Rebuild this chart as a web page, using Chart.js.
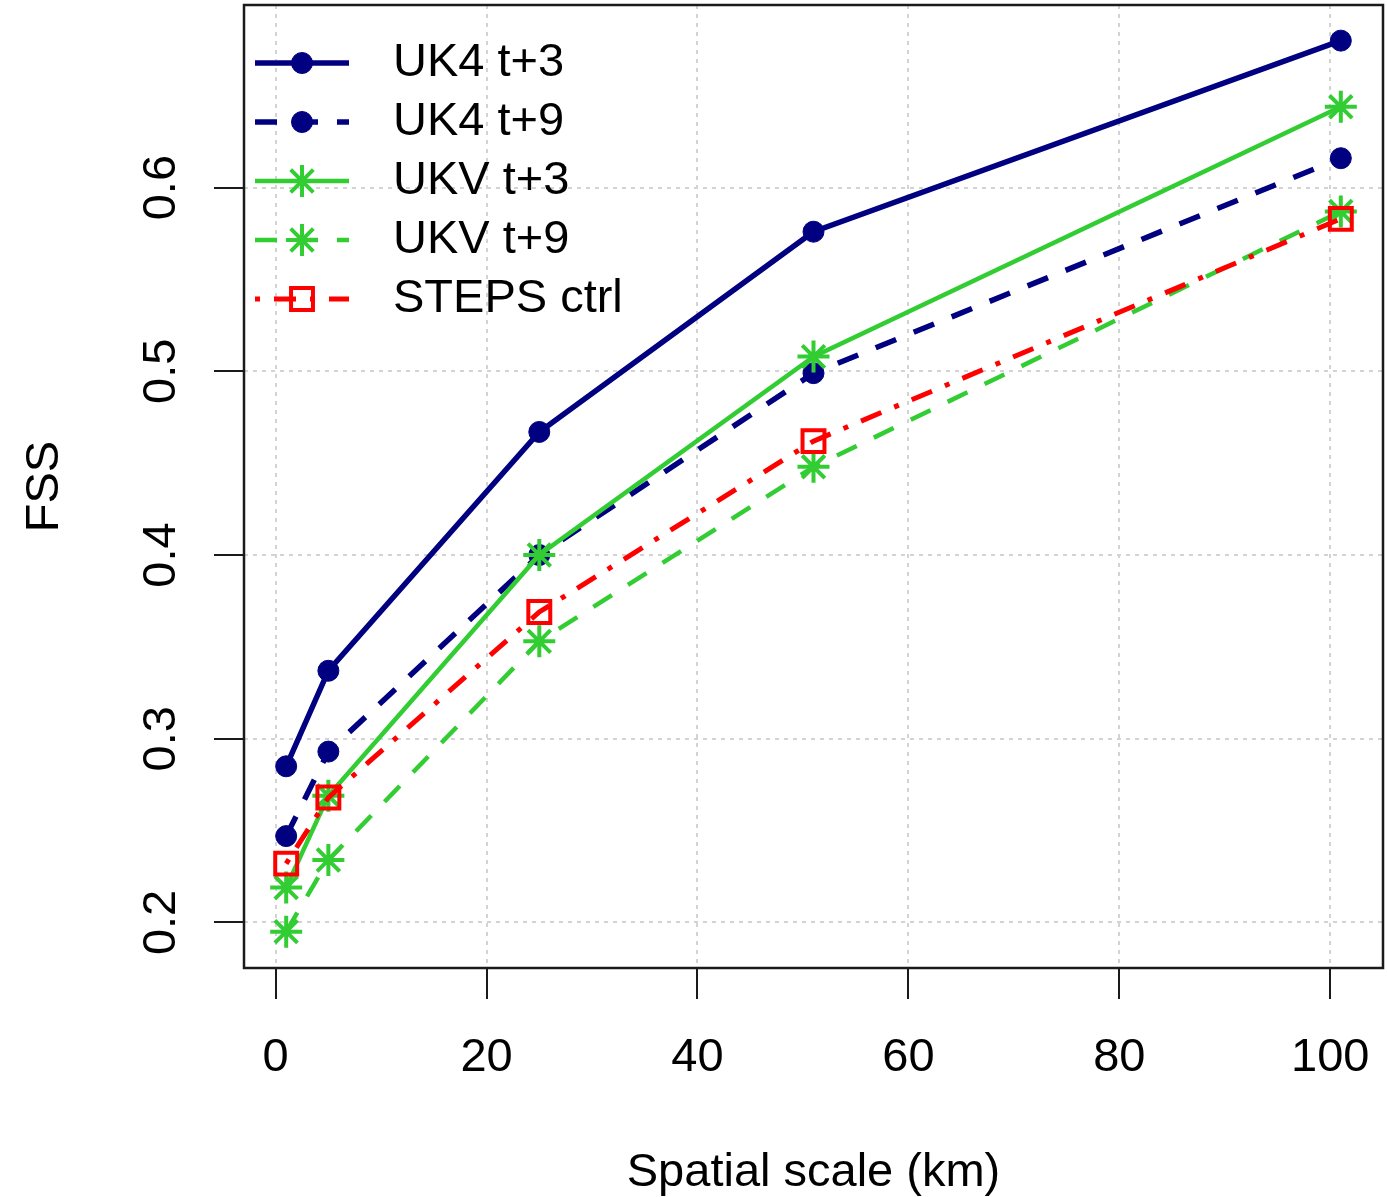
<!DOCTYPE html>
<html>
<head>
<meta charset="utf-8">
<script src="https://cdn.jsdelivr.net/npm/chart.js@4"></script>
<style>
  body { margin: 0; background: #fff; }
  canvas { display: block; }
</style>
</head>
<body>
<canvas id="fss" width="1387" height="1197"></canvas>
<script>
// spatial scale (km) on x, FSS on y
const scaleKm = [1, 5, 25, 51, 101];
const uk4T3 = [0.285, 0.337, 0.467, 0.576, 0.680];
const uk4T9 = [0.247, 0.293, 0.400, 0.499, 0.616];
const ukvT3 = [0.219, 0.269, 0.400, 0.508, 0.644];
const ukvT9 = [0.195, 0.234, 0.353, 0.448, 0.587];
const stepsCtrl = [0.232, 0.268, 0.369, 0.462, 0.583];

const seriesNames = ['UK4 t+3', 'UK4 t+9', 'UKV t+3', 'UKV t+9', 'STEPS ctrl'];
const xTicks = [0, 20, 40, 60, 80, 100];
const yTicks = [0.2, 0.3, 0.4, 0.5, 0.6];

const NAVY = '#000080';
const GREEN = '#32cd32';
const RED = '#ff0000';
const INK = '#1a1a1a';
const FONT = '"Liberation Sans", Arial, Helvetica, sans-serif';
const FSIZE = 47;
const DASHED = [22, 19];
const DOTDASH = [5, 14, 22, 14];

const looks = [
  { color: NAVY, dash: [], pointStyle: 'circle', radius: 10.5, width: 5.5, fill: NAVY, pw: 1 },
  { color: NAVY, dash: DASHED, pointStyle: 'circle', radius: 10.5, width: 5.5, fill: NAVY, pw: 1 },
  { color: GREEN, dash: [], pointStyle: 'star', radius: 16, width: 4.5, fill: GREEN, pw: 4 },
  { color: GREEN, dash: DASHED, pointStyle: 'star', radius: 16, width: 4.5, fill: GREEN, pw: 4 },
  { color: RED, dash: DOTDASH, pointStyle: 'rect', radius: 15.5, width: 5, fill: 'rgba(0,0,0,0)', pw: 4 }
];
const allSeries = [uk4T3, uk4T9, ukvT3, ukvT9, stepsCtrl];

function toPoints(vals) {
  return scaleKm.map((x, i) => ({ x: x, y: vals[i] }));
}

const datasets = allSeries.map((vals, i) => ({
  label: seriesNames[i],
  data: toPoints(vals),
  borderColor: looks[i].color,
  borderWidth: looks[i].width,
  borderDash: looks[i].dash,
  borderCapStyle: 'butt',
  backgroundColor: looks[i].fill,
  pointStyle: looks[i].pointStyle,
  pointRadius: looks[i].radius,
  pointBorderWidth: looks[i].pw,
  pointBorderColor: looks[i].color,
  pointBackgroundColor: looks[i].fill,
  tension: 0,
  fill: false,
  clip: false,
  order: allSeries.length - i
}));

// box round the plot + the R style legend
const framePlugin = {
  id: 'frame',
  afterDraw(chart) {
    const { ctx, chartArea: a } = chart;
    ctx.save();
    ctx.strokeStyle = INK;
    ctx.lineWidth = 2.5;
    ctx.setLineDash([]);
    ctx.strokeRect(a.left, a.top, a.right - a.left, a.bottom - a.top);

    const x0 = 255, x1 = 349, xm = 302, xt = 393;
    seriesNames.forEach((name, i) => {
      const y = 63 + i * 59;
      const lk = looks[i];
      ctx.save();
      ctx.strokeStyle = lk.color;
      ctx.lineWidth = lk.width;
      ctx.lineCap = 'butt';
      ctx.setLineDash(lk.dash);
      ctx.beginPath();
      ctx.moveTo(x0, y);
      ctx.lineTo(x1, y);
      ctx.stroke();
      ctx.setLineDash([]);
      ctx.fillStyle = lk.fill;
      ctx.lineWidth = lk.pw;
      Chart.helpers.drawPoint(ctx, {
        pointStyle: lk.pointStyle, rotation: 0, radius: lk.radius, borderWidth: lk.pw
      }, xm, y);
      ctx.restore();

      ctx.fillStyle = '#000';
      ctx.font = FSIZE + 'px ' + FONT;
      ctx.textBaseline = 'middle';
      ctx.textAlign = 'left';
      ctx.fillText(name, xt, y);
    });
    ctx.restore();
  }
};

const gridLook = {
  color: '#d3d3d3',
  lineWidth: 2,
  tickColor: INK,
  tickWidth: 2,
  tickBorderDash: [100, 0]
};

new Chart(document.getElementById('fss'), {
  type: 'line',
  data: { datasets: datasets },
  options: {
    responsive: false,
    animation: false,
    devicePixelRatio: 1,
    layout: { autoPadding: false, padding: { top: 5, right: 4, left: 0, bottom: 0 } },
    plugins: {
      legend: { display: false },
      tooltip: { enabled: false }
    },
    scales: {
      x: {
        type: 'linear',
        min: -3,
        max: 105,
        afterBuildTicks: s => { s.ticks = xTicks.map(v => ({ value: v })); },
        afterFit: s => { s.height = 229; s.paddingLeft = 0; s.paddingRight = 0; },
        grid: Object.assign({ tickLength: 31 }, gridLook),
        border: { display: false, dash: [4, 5] },
        ticks: {
          font: { family: FONT, size: FSIZE },
          color: '#000',
          padding: 31,
          maxRotation: 0,
          autoSkip: false,
          callback: v => String(v)
        },
        title: {
          display: true,
          text: 'Spatial scale (km)',
          color: '#000',
          font: { family: FONT, size: FSIZE, lineHeight: 1 },
          padding: { top: 0, bottom: 0 }
        }
      },
      y: {
        type: 'linear',
        min: 0.1752,
        max: 0.6994,
        afterBuildTicks: s => { s.ticks = yTicks.map(v => ({ value: v })); },
        afterFit: s => { s.width = 244; s.paddingTop = 0; s.paddingBottom = 0; },
        grid: Object.assign({ tickLength: 30 }, gridLook),
        border: { display: false, dash: [4, 5] },
        ticks: {
          font: { family: FONT, size: FSIZE },
          color: '#000',
          padding: 19,
          minRotation: 90,
          maxRotation: 90,
          crossAlign: 'center',
          autoSkip: false,
          callback: v => v.toFixed(1)
        },
        title: {
          display: true,
          text: 'FSS',
          color: '#000',
          font: { family: FONT, size: FSIZE, lineHeight: 1 },
          padding: { top: 22, bottom: 0 }
        }
      }
    }
  },
  plugins: [framePlugin]
});
</script>
</body>
</html>
